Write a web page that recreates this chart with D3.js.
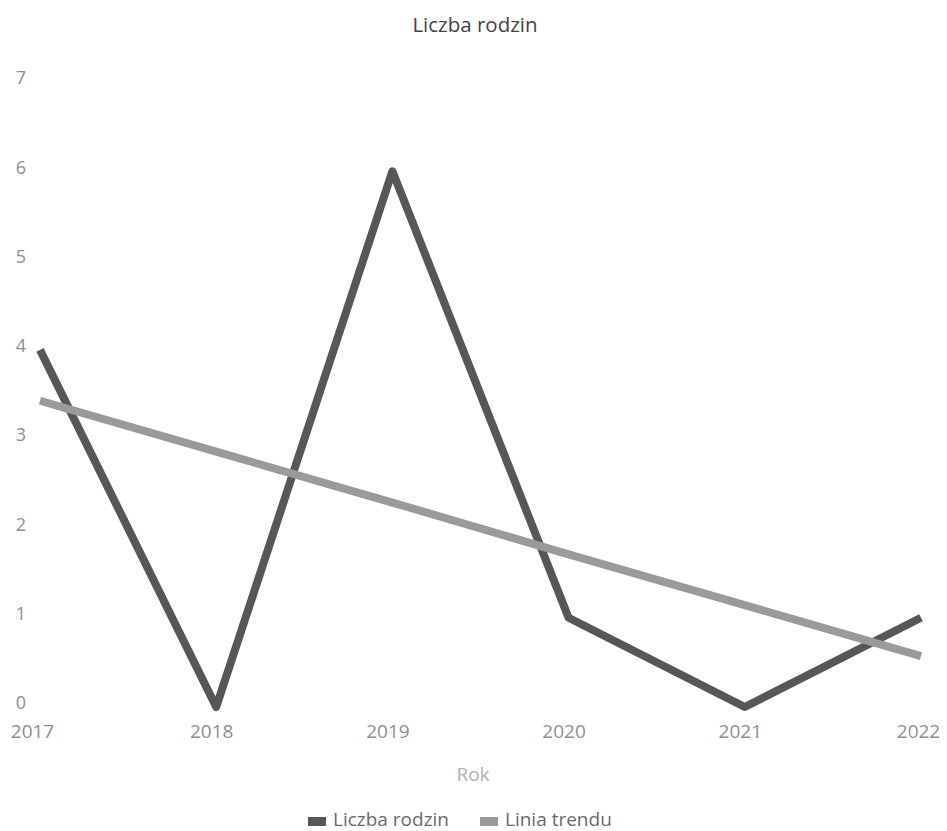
<!DOCTYPE html>
<html><head><meta charset="utf-8">
<script src="https://cdn.jsdelivr.net/npm/d3@7"></script>
<style>body{margin:0;background:#fff}text{font-family:"Open Sans",sans-serif}</style>
</head><body>
<svg id="c" width="947" height="831"></svg>
<script>
const years = ["2017","2018","2019","2020","2021","2022"];
const families = [4, 0, 6, 1, 0, 1];
const trend = [3.43, 2.86, 2.29, 1.71, 1.14, 0.57];
const yTicks = [0,1,2,3,4,5,6,7];
const seriesNames = ["Liczba rodzin", "Linia trendu"];
const colors = ["#575757", "#9a9a9a"];

const svg = d3.select("#c");
const x = d3.scalePoint().domain(years).range([40, 921]);
const y = d3.scaleLinear().domain([0, 7]).range([707, 82]);

svg.append("text").attr("x", 475).attr("y", 32).attr("text-anchor","middle")
  .attr("font-size", 20.5).attr("fill", "#444").text("Liczba rodzin");

const yAxis = svg.append("g").attr("transform","translate(21,0)")
  .call(d3.axisLeft(y).tickValues(yTicks).tickFormat(d3.format("d")).tickSize(0).tickPadding(0));
yAxis.select(".domain").remove();
yAxis.selectAll("text").attr("font-size",18).attr("fill","#8f8f8f")
  .attr("font-family","Open Sans, sans-serif").attr("text-anchor","middle").attr("dy","0.1em");

const xAxis = svg.append("g").attr("transform","translate(0,738)")
  .call(d3.axisBottom(x).tickSize(0).tickPadding(0));
xAxis.select(".domain").remove();
xAxis.selectAll("text").attr("font-size",19).attr("fill","#8f8f8f")
  .attr("font-family","Open Sans, sans-serif").attr("dy","0")
  .attr("dx", (d,i) => i===0 ? -8 : (i===5 ? -3 : -5));

svg.append("text").attr("x", 473).attr("y", 781).attr("text-anchor","middle")
  .attr("font-size", 19).attr("fill","#b0b0b0").text("Rok");

const line = d3.line().x((d,i)=>x(years[i])).y(d=>y(d));
svg.append("path").datum(families).attr("d", line).attr("fill","none")
  .attr("stroke", colors[0]).attr("stroke-width", 8).attr("stroke-linejoin","round");
svg.append("path").datum(trend).attr("d", line).attr("fill","none")
  .attr("stroke", colors[1]).attr("stroke-width", 8);

const legend = svg.append("g");
const lx = [308, 480];
seriesNames.forEach((n,i)=>{
  legend.append("rect").attr("x", lx[i]).attr("y", 817).attr("width", 18).attr("height", 9).attr("fill", colors[i]);
  legend.append("text").attr("x", lx[i]+25).attr("y", 826).attr("font-size",19).attr("fill","#6a6a6a").text(n);
});
</script>
</body></html>
